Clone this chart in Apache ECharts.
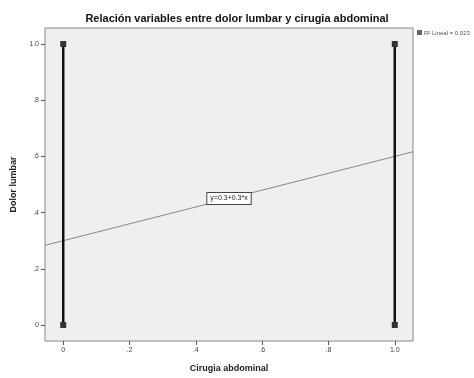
<!DOCTYPE html>
<html><head><meta charset="utf-8">
<script src="https://cdn.jsdelivr.net/npm/echarts@6/dist/echarts.min.js"></script>
<style>html,body{margin:0;padding:0;background:#fff}#c{width:474px;height:378px}</style>
</head><body><div id="c"></div>
<script>
const titleText = 'Relación variables entre dolor lumbar y cirugia abdominal';
const xName = 'Cirugia abdominal';
const yName = 'Dolor lumbar';
const xTickLabels = {0:'0', 0.2:'.2', 0.4:'.4', 0.6:'.6', 0.8:'.8', 1:'1.0'};
const yTickLabels = {0:'0', 0.2:'.2', 0.4:'.4', 0.6:'.6', 0.8:'.8', 1:'1.0'};
const cirugia = [0, 0, 1, 1];
const dolor = [0, 1, 0, 1];
const fitIntercept = 0.3;
const fitSlope = 0.3;
const fitX = [-0.055, 1.055];
const labelX = 0.5;
const fitLabel = 'y=0.3+0.3*x';
const legendText = 'R² Lineal = 0.023';

const points = cirugia.map((x, i) => [x, dolor[i]]);
const fitLine = fitX.map(x => [x, fitIntercept + fitSlope * x]);
const ticks = [0, 0.2, 0.4, 0.6, 0.8, 1];
const chart = echarts.init(document.getElementById('c'));
chart.setOption({
  animation: false,
  backgroundColor: '#fff',
  title: {text: titleText, left: 'center', top: 8,
    textStyle: {fontFamily: 'Liberation Sans', fontSize: 11, fontWeight: 'bold', color: '#111'}},
  grid: {left: 45, right: 61, top: 28, bottom: 35, show: true, backgroundColor: '#efefef', borderColor: '#888', borderWidth: 1},
  xAxis: {type: 'value', min: -0.055, max: 1.055,
    name: xName, nameLocation: 'middle', nameGap: 23,
    nameTextStyle: {fontFamily: 'Liberation Sans', fontSize: 9, fontWeight: 'bold', color: '#222'},
    axisLine: {show: false, onZero: false}, splitLine: {show: false},
    axisTick: {show: true, length: 4, lineStyle: {color: '#555'}, customValues: ticks},
    axisLabel: {fontSize: 7, color: '#444', margin: 6, customValues: ticks,
      formatter: v => xTickLabels[Math.round(v*10)/10] ?? ''}},
  yAxis: {type: 'value', min: -0.057, max: 1.057,
    name: yName, nameLocation: 'middle', nameGap: 27,
    nameTextStyle: {fontFamily: 'Liberation Sans', fontSize: 9, fontWeight: 'bold', color: '#222'},
    axisLine: {show: false, onZero: false}, splitLine: {show: false},
    axisTick: {show: true, length: 4, lineStyle: {color: '#555'}, customValues: ticks},
    axisLabel: {fontSize: 7, color: '#444', margin: 6, customValues: ticks,
      formatter: v => yTickLabels[Math.round(v*10)/10] ?? ''}},
  series: [
    {type: 'line', data: [points[0], points[1]], symbol: 'rect', symbolSize: 6,
     lineStyle: {color: '#111', width: 2.5}, itemStyle: {color: '#333'}, z: 3},
    {type: 'line', data: [points[2], points[3]], symbol: 'rect', symbolSize: 6,
     lineStyle: {color: '#111', width: 2.5}, itemStyle: {color: '#333'}, z: 3},
    {type: 'line', data: fitLine, symbol: 'none', lineStyle: {color: '#888', width: 1}, z: 2,
     markPoint: {symbol: 'rect', symbolSize: 1, itemStyle: {color: 'transparent'},
       data: [{coord: [labelX, fitIntercept + fitSlope * labelX], value: fitLabel}],
       label: {show: true, position: 'inside', formatter: fitLabel, fontSize: 7, color: '#222',
         backgroundColor: '#fff', borderColor: '#444', borderWidth: 1, padding: [2, 3]}}}
  ],
  graphic: [
    {type: 'rect', left: 417, top: 30, shape: {width: 5, height: 5}, style: {fill: '#666'}},
    {type: 'text', left: 424, top: 30, style: {text: legendText, fontSize: 6, fill: '#555'}}
  ]
});
</script></body></html>
